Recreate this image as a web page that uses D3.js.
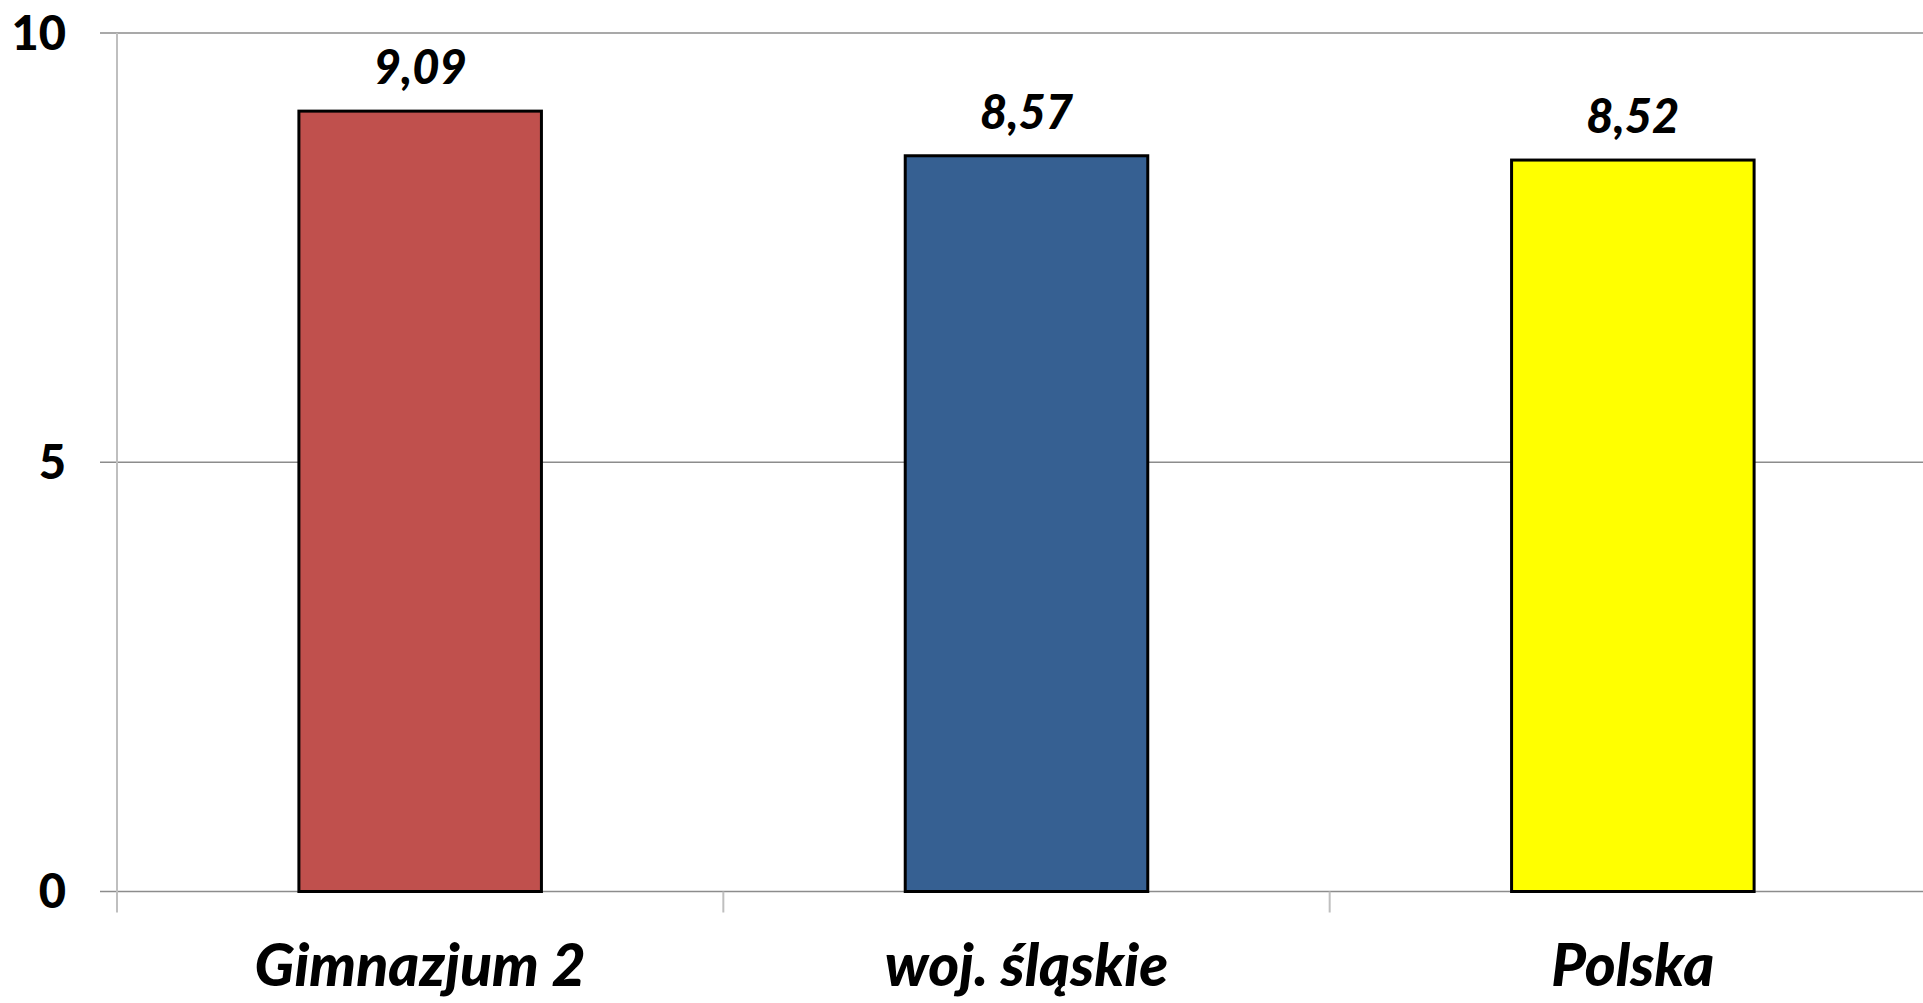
<html>
<head>
<meta charset="utf-8">
<style>
    body { margin: 0; background: #fff; }
    text { font-family: Lato, "Open Sans", sans-serif; font-weight: 900; fill: #000; }
</style>
</head>
<body>
<svg id="chart"></svg>
<script src="https://d3js.org/d3.v7.min.js"></script>
<script>

var categories = ["Gimnazjum 2", "woj. śląskie", "Polska"];
var values = [9.09, 8.57, 8.52];
var valueLabels = ["9,09", "8,57", "8,52"];
var barColors = ["#C0504D", "#366092", "#FFFF00"];
var yTicks = [0, 5, 10];

var screen = {width: 1923, height: 1003};
var plot = {left: 117, right: 1936, top: 33, bottom: 891.5};

var svg = d3.select("#chart")
    .attr("width", screen.width)
    .attr("height", screen.height);

//scales
var xScale = d3.scaleBand()
    .domain(categories)
    .range([plot.left, plot.right])
    .paddingInner(0.6)
    .paddingOuter(0.3);

var yScale = d3.scaleLinear()
    .domain([0, 10])
    .range([plot.bottom, plot.top]);

var step = xScale.step();

//gridlines (0 line is the category axis)
svg.append("g")
    .selectAll("line")
    .data(yTicks)
    .enter()
    .append("line")
    .attr("x1", plot.left - 17)
    .attr("x2", screen.width)
    .attr("y1", function(d) { return yScale(d); })
    .attr("y2", function(d) { return yScale(d); })
    .attr("stroke", "#8c8c8c")
    .attr("stroke-width", 1.5);

//vertical axis line + category tick marks
svg.append("line")
    .attr("x1", plot.left).attr("x2", plot.left)
    .attr("y1", plot.top).attr("y2", plot.bottom + 21)
    .attr("stroke", "#bfbfbf")
    .attr("stroke-width", 2);

svg.append("g")
    .selectAll("line")
    .data(categories)
    .enter()
    .append("line")
    .attr("x1", function(d) { return xScale(d) - xScale.bandwidth() * 0.75 + step; })
    .attr("x2", function(d) { return xScale(d) - xScale.bandwidth() * 0.75 + step; })
    .attr("y1", plot.bottom)
    .attr("y2", plot.bottom + 21)
    .attr("stroke", "#bfbfbf")
    .attr("stroke-width", 2);

//y axis labels
var yAxis = d3.axisLeft(yScale)
    .tickValues(yTicks)
    .tickSize(0)
    .tickPadding(0)
    .tickFormat(d3.format("d"));

var yG = svg.append("g")
    .attr("transform", "translate(66,0)")
    .call(yAxis);
yG.select(".domain").remove();
yG.selectAll("text")
    .attr("dy", 16)
    .attr("x", 0)
    .style("font-family", "Lato, sans-serif")
    .style("font-weight", "900")
    .style("font-size", "47px")
    .attr("fill", "#000");

//bars
svg.append("g")
    .selectAll("rect")
    .data(values)
    .enter()
    .append("rect")
    .attr("x", function(d, i) { return xScale(categories[i]); })
    .attr("y", function(d) { return yScale(d); })
    .attr("width", xScale.bandwidth())
    .attr("height", function(d) { return yScale(0) - yScale(d); })
    .attr("fill", function(d, i) { return barColors[i]; })
    .attr("stroke", "#000")
    .attr("stroke-width", 3);

//value labels
svg.append("g")
    .selectAll("text")
    .data(values)
    .enter()
    .append("text")
    .attr("x", function(d, i) { return xScale(categories[i]) + xScale.bandwidth() / 2; })
    .attr("y", function(d) { return yScale(d) - 27; })
    .attr("text-anchor", "middle")
    .style("font-size", "47px")
    .style("font-style", "italic")
    .text(function(d, i) { return valueLabels[i]; });

//category labels
svg.append("g")
    .selectAll("text")
    .data(categories)
    .enter()
    .append("text")
    .attr("x", function(d) { return xScale(d) + xScale.bandwidth() / 2; })
    .attr("y", 986)
    .attr("text-anchor", "middle")
    .style("font-size", "59px")
    .style("font-style", "italic")
    .text(function(d) { return d; });

</script>
</body>
</html>
